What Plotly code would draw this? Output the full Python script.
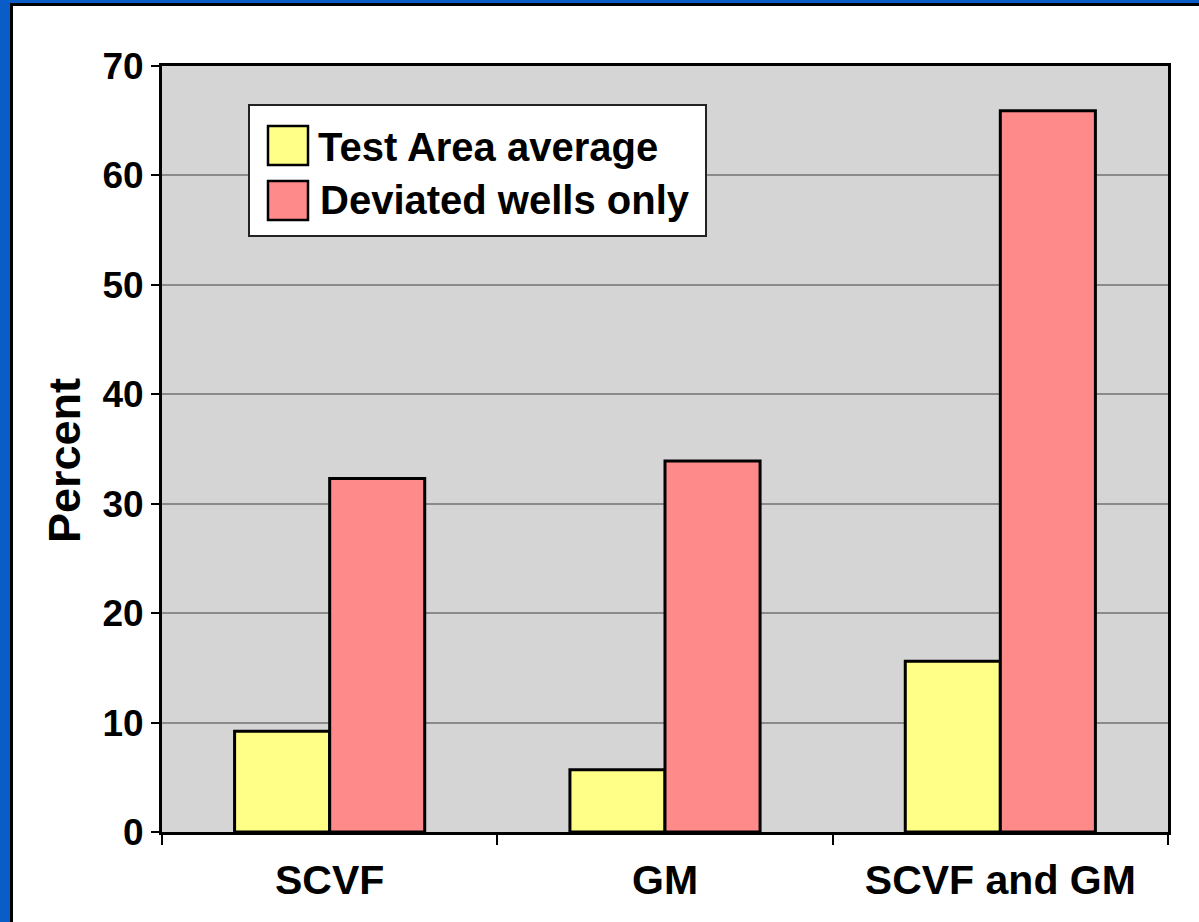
import plotly.graph_objects as go

categories = ["SCVF", "GM", "SCVF and GM"]
series_names = ["Test Area average", "Deviated wells only"]
test_area_avg = [9.2, 5.7, 15.6]
deviated_only = [32.3, 33.9, 65.9]
y_ticks = [0, 10, 20, 30, 40, 50, 60, 70]
y_title = "Percent"

YELLOW = "#ffff88"
RED = "#ff8a8a"
FONT = "Liberation Sans"

W, H = 1199, 922
L, R, T, B = 162, 31, 66, 90
PW, PH = W - L - R, H - T - B


def px(x):
    return (x - L) / PW


def py(y):
    return (H - B - y) / PH


fig = go.Figure()
fig.add_trace(go.Bar(x=categories, y=test_area_avg, name=series_names[0],
                     marker=dict(color=YELLOW, line=dict(color="black", width=3)),
                     showlegend=False))
fig.add_trace(go.Bar(x=categories, y=deviated_only, name=series_names[1],
                     marker=dict(color=RED, line=dict(color="black", width=3)),
                     showlegend=False))

shapes = []
# outer frame: blue + black line on top and left
shapes.append(dict(type="rect", xref="paper", yref="paper", x0=px(-2), x1=px(10), y0=py(H + 2), y1=py(-2),
                   fillcolor="#0a5cc6", line=dict(width=0), layer="above"))
shapes.append(dict(type="rect", xref="paper", yref="paper", x0=px(-2), x1=px(W + 2), y0=py(3), y1=py(-2),
                   fillcolor="#0a5cc6", line=dict(width=0), layer="above"))
shapes.append(dict(type="rect", xref="paper", yref="paper", x0=px(10), x1=px(13), y0=py(H + 2), y1=py(3),
                   fillcolor="black", line=dict(width=0), layer="above"))
shapes.append(dict(type="rect", xref="paper", yref="paper", x0=px(10), x1=px(W + 2), y0=py(6), y1=py(3),
                   fillcolor="black", line=dict(width=0), layer="above"))
# legend box
shapes.append(dict(type="rect", xref="paper", yref="paper", x0=px(249), x1=px(706), y0=py(236), y1=py(105),
                   fillcolor="white", line=dict(color="#222222", width=2), layer="above"))
shapes.append(dict(type="rect", xref="paper", yref="paper", x0=px(268), x1=px(308), y0=py(165), y1=py(126),
                   fillcolor=YELLOW, line=dict(color="black", width=2.5), layer="above"))
shapes.append(dict(type="rect", xref="paper", yref="paper", x0=px(268), x1=px(308), y0=py(220), y1=py(181),
                   fillcolor=RED, line=dict(color="black", width=2.5), layer="above"))

annotations = [
    dict(xref="paper", yref="paper", x=px(316), y=py(147), text=series_names[0], showarrow=False,
         xanchor="left", yanchor="middle", font=dict(family=FONT, size=40, color="black", weight="bold")),
    dict(xref="paper", yref="paper", x=px(318), y=py(200), text=series_names[1], showarrow=False,
         xanchor="left", yanchor="middle", font=dict(family=FONT, size=40, color="black", weight="bold")),
    dict(xref="paper", yref="paper", x=px(64), y=py(461), text=y_title, showarrow=False, textangle=-90,
         xanchor="center", yanchor="middle", font=dict(family=FONT, size=45, color="black", weight="bold")),
]

fig.update_layout(
    width=W, height=H,
    margin=dict(l=L, r=R, t=T, b=B, pad=0),
    paper_bgcolor="white",
    plot_bgcolor="#d5d5d5",
    barmode="group",
    bargap=0.433,
    bargroupgap=0,
    showlegend=False,
    shapes=shapes,
    annotations=annotations,
    font=dict(family=FONT, color="black", weight="bold"),
)
fig.update_xaxes(
    showline=True, linecolor="black", linewidth=3, mirror=True,
    ticks="outside", tickson="boundaries", ticklen=10, tickwidth=1.5, tickcolor="black",
    tickfont=dict(family=FONT, size=41, color="black", weight="bold"),
    ticklabelstandoff=10,
    showgrid=False,
)
fig.update_yaxes(
    range=[0, 70], tickvals=y_ticks,
    showline=True, linecolor="black", linewidth=3, mirror=True,
    ticks="outside", ticklen=8, tickwidth=1.5, tickcolor="black",
    tickfont=dict(family=FONT, size=37, color="black", weight="bold"),
    showgrid=True, gridcolor="#8a8a8a", gridwidth=1.5,
    zeroline=False,
)

fig.write_html("out.html", config={"displayModeBar": False},
               post_script="document.body.style.margin='0px';document.body.style.overflow='hidden';")
